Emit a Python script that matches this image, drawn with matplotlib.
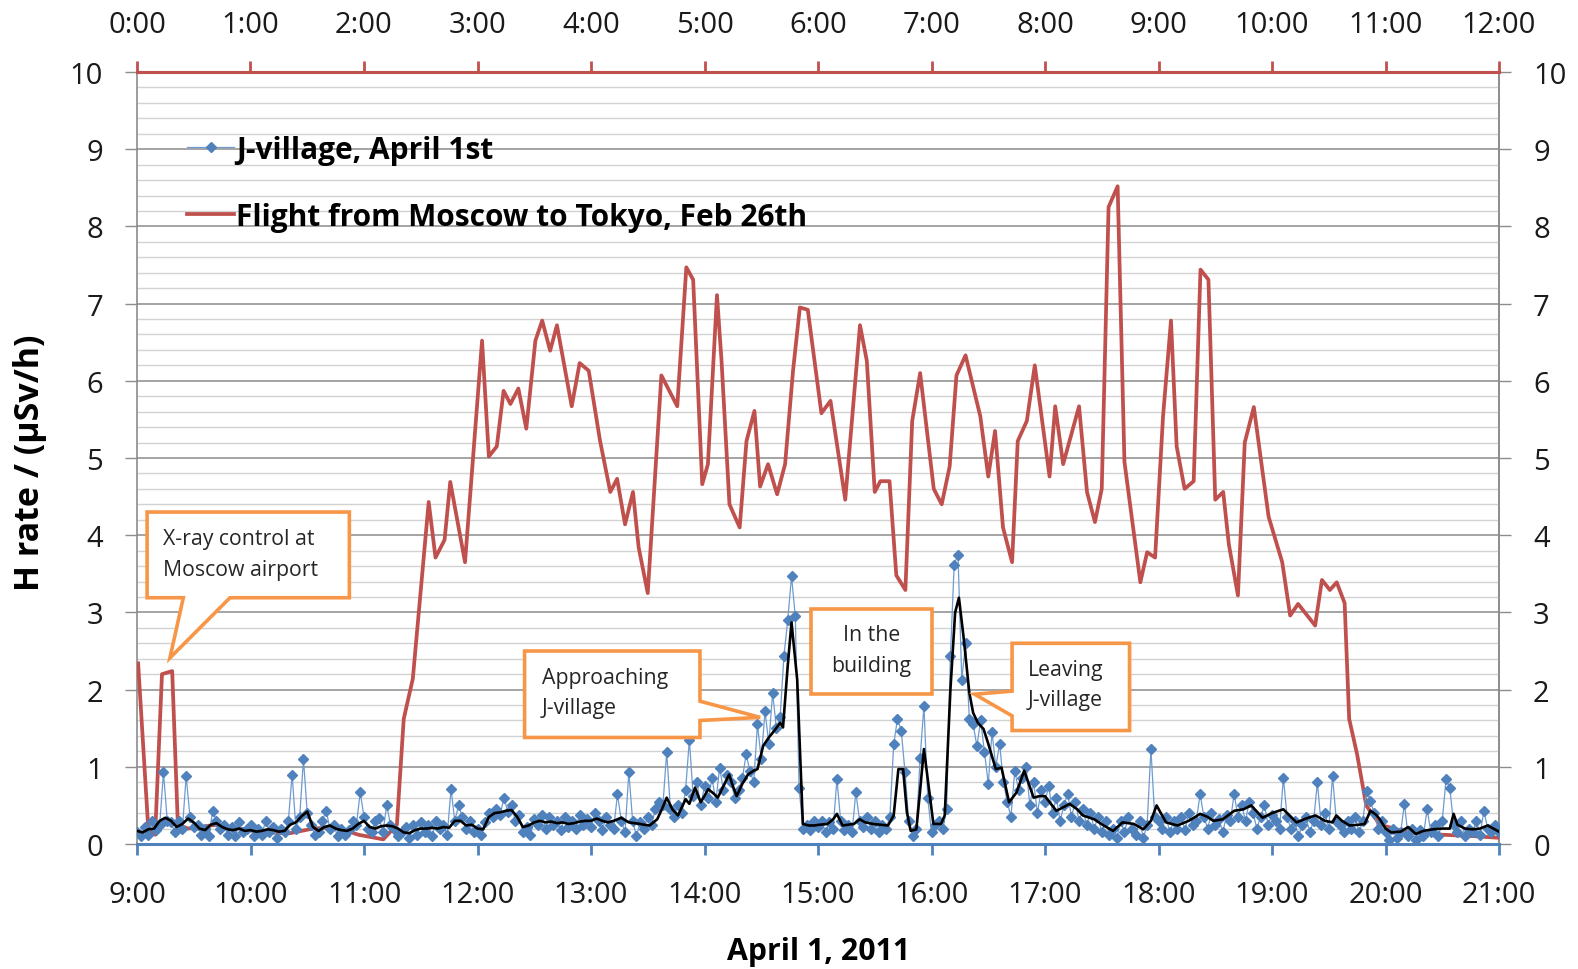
import numpy as np
import matplotlib
matplotlib.use("Agg")
import matplotlib.pyplot as plt
from matplotlib.patches import Polygon
from matplotlib.ticker import MultipleLocator

plt.rcParams['font.family'] = ['Open Sans', 'DejaVu Sans']

# ---------------- data ----------------
bottom_labels = [f"{h}:00" for h in range(9, 22)]
top_labels = [f"{h}:00" for h in range(0, 13)]

# Flight Moscow -> Tokyo (hours of flight, uSv/h)
flight_t = [0.01, 0.10, 0.16, 0.22, 0.31, 0.36, 0.45, 0.56, 0.70, 0.78, 0.90, 1.10, 1.35, 1.55, 1.75,
            1.95, 2.10, 2.17, 2.29, 2.35, 2.43, 2.57, 2.63, 2.71, 2.76, 2.89, 3.04, 3.10, 3.17, 3.23,
            3.29, 3.36, 3.43, 3.51, 3.57, 3.64, 3.70, 3.83, 3.90, 3.98, 4.08, 4.17, 4.23, 4.30, 4.37,
            4.42, 4.50, 4.62, 4.76, 4.84, 4.90, 4.98, 5.03, 5.11, 5.15, 5.22, 5.31, 5.37, 5.44, 5.49,
            5.56, 5.64, 5.71, 5.78, 5.84, 5.91, 6.03, 6.11, 6.24, 6.37, 6.43, 6.50, 6.55, 6.63, 6.69,
            6.77, 6.83, 6.90, 7.02, 7.09, 7.16, 7.22, 7.30, 7.43, 7.50, 7.56, 7.63, 7.71, 7.76, 7.84,
            7.91, 8.04, 8.09, 8.16, 8.30, 8.37, 8.44, 8.50, 8.56, 8.64, 8.70, 8.84, 8.90, 8.97, 9.04,
            9.11, 9.16, 9.23, 9.31, 9.37, 9.44, 9.50, 9.57, 9.62, 9.70, 9.76, 9.84, 9.97, 10.09, 10.16,
            10.23, 10.38, 10.44, 10.51, 10.57, 10.64, 10.68, 10.75, 10.83, 10.95, 11.2, 11.5, 11.8, 12.0]
flight_v = [2.34, 0.18, 0.12, 2.2, 2.24, 0.25, 0.2, 0.22, 0.25, 0.22, 0.2, 0.15, 0.14, 0.2, 0.22,
            0.12, 0.08, 0.06, 0.25, 1.62, 2.14, 4.43, 3.71, 3.94, 4.69, 3.65, 6.52, 5.02, 5.15, 5.87,
            5.7, 5.9, 5.38, 6.52, 6.78, 6.39, 6.72, 5.67, 6.23, 6.13, 5.22, 4.56, 4.73, 4.14, 4.56,
            3.84, 3.25, 6.07, 5.67, 7.47, 7.31, 4.66, 4.92, 7.11, 6.26, 4.4, 4.1, 5.22, 5.61, 4.63,
            4.92, 4.53, 4.92, 6.13, 6.95, 6.92, 5.58, 5.74, 4.46, 6.72, 6.26, 4.56, 4.7, 4.7, 3.48,
            3.29, 5.48, 6.1, 4.6, 4.4, 4.89, 6.07, 6.33, 5.54, 4.76, 5.35, 4.1, 3.65, 5.22, 5.48,
            6.2, 4.76, 5.67, 4.92, 5.67, 4.56, 4.17, 4.6, 8.25, 8.52, 4.95, 3.39, 3.78, 3.71, 5.54,
            6.78, 5.15, 4.6, 4.7, 7.44, 7.31, 4.46, 4.56, 3.88, 3.22, 5.2, 5.66, 4.24, 3.65, 2.96,
            3.11, 2.83, 3.42, 3.29, 3.39, 3.12, 1.62, 1.16, 0.5, 0.25, 0.15, 0.12, 0.1, 0.08]

# J-village, April 1st: samples every 2 minutes from 9:00 (uSv/h)
jv_minutes = list(range(0, 721, 2))
blue_h0 = [.15, .1, .22, .12, .3, .18, .25, .93, .3, .28, .15, .3, .2, .88, .35, .22, .25, .12, .2, .1,
           .43, .3, .2, .25, .12, .22, .1, .28, .15, .2]
blue_h1 = [.25, .1, .2, .12, .3, .15, .22, .08, .2, .15, .3, .9, .2, .35, 1.1, .4, .25, .12, .15, .3,
           .43, .2, .25, .1, .2, .12, .18, .3, .25, .67]
blue_h2 = [.35, .2, .15, .3, .34, .15, .5, .25, .2, .1, .15, .22, .08, .25, .12, .28, .15, .25, .1, .3,
           .2, .25, .12, .71, .3, .5, .35, .2, .3, .15]
blue_h3 = [.2, .12, .28, .4, .35, .45, .38, .6, .42, .5, .3, .38, .15, .22, .12, .32, .25, .38, .2, .35,
           .25, .3, .18, .35, .22, .3, .2, .38, .25, .32]
blue_h4 = [.22, .4, .3, .18, .35, .25, .2, .65, .3, .15, .93, .3, .1, .28, .2, .35, .25, .45, .55, .5,
           1.19, .45, .35, .5, .4, .7, 1.35, .62, .8, .5]
blue_h5 = [.75, .6, .85, .55, .99, .7, .9, .8, .6, .7, .85, 1.16, .95, .8, 1.55, 1.1, 1.72, 1.3, 1.96, 1.5,
           1.65, 2.44, 2.9, 3.47, 2.95, .73, .2, .25, .18, .3]
blue_h6 = [.22, .3, .15, .28, .2, .84, .3, .18, .25, .15, .67, .3, .22, .35, .2, .3, .15, .25, .2, .35,
           1.29, 1.62, 1.47, .93, .3, .1, .2, 1.12, 1.79, .6]
blue_h7 = [.15, .25, .3, .2, .45, 2.44, 3.62, 3.75, 2.13, 2.6, 1.62, 1.55, 1.27, 1.6, 1.19, .78, 1.45, 1.0, 1.3, .8,
           .55, .35, .95, .7, .85, 1.0, .5, .8, .4, .7]
blue_h8 = [.55, .75, .4, .6, .3, .5, .65, .35, .55, .3, .45, .25, .4, .2, .35, .15, .3, .12, .2, .08,
           .3, .15, .35, .2, .12, .3, .08, .25, 1.23, .35]
blue_h9 = [.3, .2, .35, .15, .3, .2, .35, .18, .4, .25, .3, .65, .35, .2, .4, .25, .32, .15, .38, .3,
           .65, .35, .5, .3, .55, .4, .2, .35, .5, .25]
blue_h10 = [.38, .3, .2, .86, .35, .2, .3, .1, .25, .35, .15, .3, .8, .25, .4, .2, .88, .3, .25, .15,
            .3, .2, .35, .15, .3, .69, .56, .4, .2, .3]
blue_h11 = [.15, .05, .2, .08, .15, .52, .1, .2, .05, .18, .1, .45, .15, .25, .1, .3, .84, .73, .25, .15,
            .3, .1, .2, .15, .3, .12, .43, .2, .15, .25, .15]

# Smoothed J-village curve (minutes from 9:00, uSv/h)
smooth_t_a = list(range(0, 240, 3))
smooth_v_a = [.17, .15, .19, .2, .3, .34, .3, .22, .26, .33, .28, .2, .18, .25, .27, .22, .19, .18, .2, .17,
              .18, .16, .17, .19, .18, .16, .17, .25, .28, .36, .42, .22, .17, .22, .24, .2, .18, .17, .2, .26,
              .3, .22, .2, .23, .24, .23, .2, .15, .14, .18, .2, .2, .21, .2, .22, .21, .3, .3, .24, .25,
              .2, .19, .35, .4, .41, .43, .44, .35, .22, .24, .28, .3, .28, .29, .27, .28, .26, .27, .29, .3]
smooth_t_b = [240, 243, 246, 249, 252, 256, 260, 263, 266, 268, 271, 275, 278, 280, 283, 286, 290, 292, 295, 298,
              302, 305, 307, 310, 313, 315, 317, 320, 323, 326, 328, 331, 334, 337, 340, 341.5, 344, 346, 349, 352,
              355, 358]
smooth_v_b = [.3, .33, .3, .28, .3, .34, .28, .27, .26, .25, .24, .32, .48, .6, .45, .37, .58, .52, .73, .54,
              .71, .65, .6, .75, .9, .75, .62, .78, .9, .95, .97, 1.27, 1.38, 1.47, 1.57, 1.51, 2.31, 2.87, 2.13, .26,
              .24, .24]
smooth_t_c = [361, 365, 368, 370, 373, 376, 379, 382, 385, 389, 393, 397, 400, 402.5, 405, 407, 409, 412, 414, 416,
              418, 421, 425, 427, 430, 432.5, 434.5, 437, 440, 442, 444.5, 447.5, 450, 454, 457, 461, 465, 469, 474, 477]
smooth_v_c = [.25, .26, .32, .39, .24, .25, .26, .32, .28, .26, .25, .24, .37, .97, .97, .41, .17, .19, .7, 1.23,
              .84, .26, .26, .37, 2.0, 3.0, 3.19, 2.67, 1.96, 1.7, 1.57, 1.49, 1.3, .97, .99, .54, .67, .95, .6, .62]
smooth_t_d = [480, 486, 490, 493, 497, 500, 506, 511, 516, 521, 527, 532, 536, 539, 541, 544, 550, 556, 562, 566,
              569, 574, 580, 585, 589, 592, 595]
smooth_v_d = [.62, .43, .48, .52, .45, .37, .32, .24, .17, .28, .26, .19, .3, .5, .41, .28, .24, .3, .39, .35,
              .3, .32, .43, .45, .5, .42, .34]
smooth_t_e = [600, 606, 610, 613, 618, 623, 628, 632, 634, 637, 641, 646, 649, 652, 655, 657, 660, 663, 668, 672,
              676, 680, 685, 690, 694, 696, 698, 702, 706, 710, 714, 717, 720]
smooth_v_e = [.4, .45, .35, .28, .33, .37, .3, .28, .37, .3, .24, .25, .26, .43, .38, .32, .2, .15, .16, .22,
              .13, .17, .19, .2, .2, .39, .25, .2, .19, .2, .24, .2, .16]

legend_labels = ["J-village, April 1st", "Flight from Moscow to Tokyo, Feb 26th"]

# ---------------- figure ----------------
RED = '#C0504D'
BLUE = '#4F81BD'
GRAY = '#8C8C8C'

fig = plt.figure(figsize=(15.78, 9.70), dpi=100)
ax = fig.add_axes([137 / 1578, 1 - 845 / 970, (1499 - 137) / 1578, (845 - 73) / 970])

jv_v = (blue_h0 + blue_h1 + blue_h2 + blue_h3 + blue_h4 + blue_h5 + blue_h6 + blue_h7 +
        blue_h8 + blue_h9 + blue_h10 + blue_h11)
smooth_t = smooth_t_a + smooth_t_b + smooth_t_c + smooth_t_d + smooth_t_e
smooth_v = smooth_v_a + smooth_v_b + smooth_v_c + smooth_v_d + smooth_v_e

red_line, = ax.plot(flight_t, flight_v, color=RED, lw=2.7, zorder=3, solid_joinstyle='round')
blue_line, = ax.plot(np.array(jv_minutes) / 60.0, jv_v, color='#6E9BD0', lw=0.9,
                     marker='D', markersize=5.0, markerfacecolor=BLUE, markeredgecolor=BLUE,
                     zorder=4)
ax.plot(np.array(smooth_t) / 60.0, smooth_v, color='black', lw=1.9, zorder=5)

ax.set_xlim(0, 12)
ax.set_ylim(0, 10)

# grid
ax.set_yticks(range(0, 11))
ax.yaxis.set_minor_locator(MultipleLocator(0.2))
ax.grid(which='major', axis='y', color=GRAY, lw=1.1, zorder=0)
ax.grid(which='minor', axis='y', color='#D2D2D2', lw=1.0, zorder=0)
ax.set_axisbelow(True)
ax.tick_params(axis='y', which='minor', length=0)
ax.tick_params(axis='y', which='major', direction='out', length=8.5, width=1, color=GRAY,
               labelsize=21, pad=16, labelcolor='#1a1a1a')

# bottom axis
ax.set_xticks(range(0, 13))
ax.set_xticklabels(bottom_labels)
ax.tick_params(axis='x', which='major', direction='out', length=8, width=2, color=BLUE,
               labelsize=21, pad=18, labelcolor='#1a1a1a')

for side in ['left', 'right']:
    ax.spines[side].set_color(GRAY)
    ax.spines[side].set_linewidth(1.2)
ax.spines['bottom'].set_color(BLUE)
ax.spines['bottom'].set_linewidth(2.2)
ax.spines['top'].set_color(RED)
ax.spines['top'].set_linewidth(2.2)

# top axis
secx = ax.secondary_xaxis('top')
secx.set_xticks(range(0, 13))
secx.set_xticklabels(top_labels)
secx.tick_params(axis='x', direction='out', length=8, width=2, color=RED,
                 labelsize=21, pad=16, labelcolor='#1a1a1a')
secx.spines['top'].set_color(RED)
secx.spines['top'].set_linewidth(2.2)

# right axis
secy = ax.secondary_yaxis('right')
secy.set_yticks(range(0, 11))
secy.tick_params(axis='y', direction='out', length=8.5, width=1, color=GRAY,
                 labelsize=21, pad=16, labelcolor='#1a1a1a')
secy.spines['right'].set_color(GRAY)
secy.spines['right'].set_linewidth(1.2)

# axis titles
fig.text(30 / 1568, 1 - 460 / 964, "H rate / (µSv/h)", rotation=90, ha='center', va='center',
         fontsize=24.5, fontweight='bold', color='black')
fig.text(813 / 1568, 1 - 946 / 964, "April 1, 2011", ha='center', va='center',
         fontsize=21.8, fontweight='bold', color='black')

# legend
leg = ax.legend([blue_line, red_line], legend_labels, loc='center left',
                bbox_to_anchor=(0.037, 0.856), frameon=False, numpoints=1,
                prop=dict(weight='bold', size=21.5), handlelength=1.55, handletextpad=0.08,
                labelspacing=1.25, borderpad=0, borderaxespad=0)
for t in leg.get_texts():
    t.set_color('black')

# callouts
ORANGE = '#F79646'
call_kw = dict(closed=True, facecolor='white', edgecolor=ORANGE, lw=2.6, zorder=8, joinstyle='miter')
txt_kw = dict(fontsize=15.3, color='#262626', linespacing=1.6, zorder=9, va='center')
ax.add_patch(Polygon([(0.089, 4.30), (1.871, 4.30), (1.871, 3.19), (0.819, 3.19), (0.29, 2.41),
                      (0.408, 3.19), (0.089, 3.19)], **call_kw))
ax.text(0.23, 3.76, "X-ray control at\nMoscow airport", ha='left', **txt_kw)

ax.add_patch(Polygon([(3.415, 2.5), (4.96, 2.5), (4.96, 1.85), (5.49, 1.64), (4.96, 1.6),
                      (4.96, 1.38), (3.415, 1.38)], **call_kw))
ax.text(3.565, 1.965, "Approaching\nJ-village", ha='left', **txt_kw)

ax.add_patch(Polygon([(5.94, 3.04), (7.0, 3.04), (7.0, 1.94), (5.94, 1.94)], **call_kw))
ax.text(6.47, 2.515, "In the\nbuilding", ha='center', **txt_kw)

ax.add_patch(Polygon([(7.71, 2.6), (8.745, 2.6), (8.745, 1.47), (7.71, 1.47), (7.71, 1.66),
                      (7.38, 1.94), (7.71, 1.98)], **call_kw))
ax.text(7.85, 2.065, "Leaving\nJ-village", ha='left', **txt_kw)

fig.savefig('out.png', dpi=100, facecolor='white')
